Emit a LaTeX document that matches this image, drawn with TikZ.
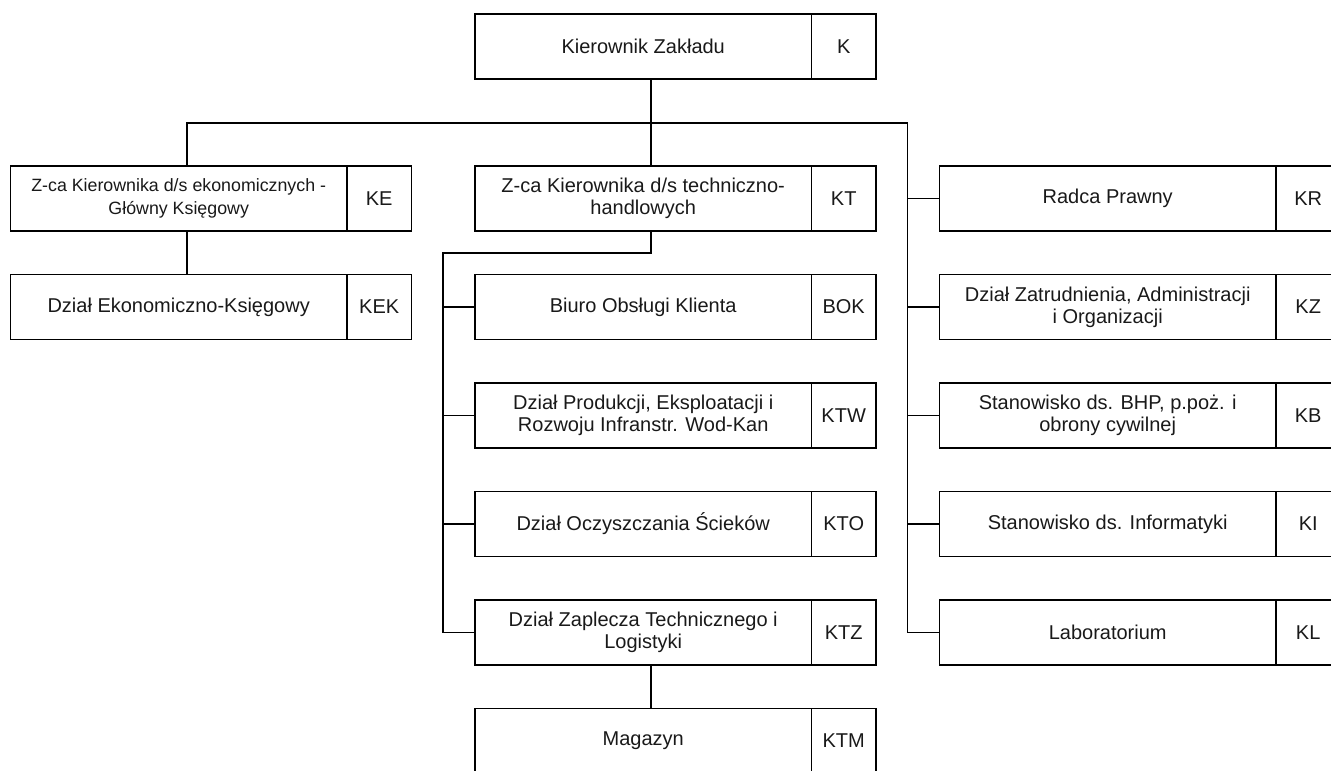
\documentclass[tikz,border=0pt]{standalone}
\usepackage{fontspec}
\setmainfont{Liberation Sans}
\usepackage{tikz}
\usetikzlibrary{positioning}
\definecolor{ink}{RGB}{25, 25, 25}
\tikzstyle{unit} = [rectangle, draw=black, line width=1.9pt, minimum width=336.5pt, minimum height=65pt, inner sep=2pt, outer sep=0pt, align=center, text=ink, font=\fontsize{20}{22.3}\selectfont]
\tikzstyle{kod} = [rectangle, draw=black, line width=1.9pt, minimum width=64.5pt, minimum height=65pt, inner sep=2pt, outer sep=0pt, text=ink, font=\fontsize{20}{22.3}\selectfont]
\tikzstyle{tline} = [draw=black, line width=1.9pt]

\begin{document}
\begin{tikzpicture}[x=1pt, y=-1pt]
\path[use as bounding box, clip] (0,0) rectangle (1331,771);

% kierownik ==============================
\node[unit] (kier) at (643.2,46.5) {Kierownik Zakładu};
\node[kod, right=0pt of kier] (kierKod) {K};

% zastepcy
\node[unit, below=87pt of kier] (zkt) {Z-ca Kierownika d/s techniczno-\\handlowych};
\node[kod, right=0pt of zkt] (zktKod) {KT};
\node[unit, left=128pt of zkt, font=\fontsize{17.8}{22.3}\selectfont] (zke) {Z-ca Kierownika d/s ekonomicznych -\\Główny Księgowy};
\node[kod, right=0pt of zke] (zkeKod) {KE};

% pion ekonomiczny
\node[unit, below=43.5pt of zke] (kek) {Dział Ekonomiczno-Księgowy};
\node[kod, right=0pt of kek] (kekKod) {KEK};

% pion techniczno-handlowy
\node[unit, below=43.5pt of zkt] (bok) {Biuro Obsługi Klienta};
\node[kod, right=0pt of bok] (bokKod) {BOK};
\node[unit, below=43.5pt of bok] (ktw) {Dział Produkcji, Eksploatacji i\\Rozwoju Infranstr. Wod-Kan};
\node[kod, right=0pt of ktw] (ktwKod) {KTW};
\node[unit, below=43.5pt of ktw] (kto) {Dział Oczyszczania Ścieków};
\node[kod, right=0pt of kto] (ktoKod) {KTO};
\node[unit, below=43.5pt of kto] (ktz) {Dział Zaplecza Technicznego i\\Logistyki};
\node[kod, right=0pt of ktz] (ktzKod) {KTZ};
\node[unit, below=43.5pt of ktz] (mag) {Magazyn};
\node[kod, right=0pt of mag] (magKod) {KTM};

% stanowiska podlegle kierownikowi
\node[unit, right=63.5pt of zktKod] (kr) {Radca Prawny};
\node[kod, right=0pt of kr] (krKod) {KR};
\node[unit, below=43.5pt of kr] (kz) {Dział Zatrudnienia, Administracji\\i Organizacji};
\node[kod, right=0pt of kz] (kzKod) {KZ};
\node[unit, below=43.5pt of kz] (kb) {Stanowisko ds. BHP, p.poż. i\\obrony cywilnej};
\node[kod, right=0pt of kb] (kbKod) {KB};
\node[unit, below=43.5pt of kb] (ki) {Stanowisko ds. Informatyki};
\node[kod, right=0pt of ki] (kiKod) {KI};
\node[unit, below=43.5pt of ki] (kl) {Laboratorium};
\node[kod, right=0pt of kl] (klKod) {KL};

% szyny
\coordinate (rbus) at ([xshift=-32pt]kr.west);
\coordinate (mbus) at ([xshift=-32pt]bok.west);

%edges
\path[tline] ([xshift=8pt]kier.south) -- ([xshift=8pt]zkt.north);
\path[tline] ([xshift=8pt]zke.north) -- ++(0,-43) -| (kl.west -| rbus);
\path[tline] ([xshift=8pt]zke.south) -- ([xshift=8pt]kek.north);

%edges pion techniczny
\path[tline] ([xshift=8pt]zkt.south) -- ++(0,22) -| (ktz.west -| mbus);
\path[tline] (bok.west) -- (bok.west -| mbus);
\path[tline] (ktw.west) -- (ktw.west -| mbus);
\path[tline] (kto.west) -- (kto.west -| mbus);
\path[tline] (ktz.west) -- (ktz.west -| mbus);
\path[tline] ([xshift=8pt]ktz.south) -- ([xshift=8pt]mag.north);

%edges stanowiska
\path[tline] (kr.west) -- (kr.west -| rbus);
\path[tline] (kz.west) -- (kz.west -| rbus);
\path[tline] (kb.west) -- (kb.west -| rbus);
\path[tline] (ki.west) -- (ki.west -| rbus);
\path[tline] (kl.west) -- (kl.west -| rbus);

\end{tikzpicture}
\end{document}
